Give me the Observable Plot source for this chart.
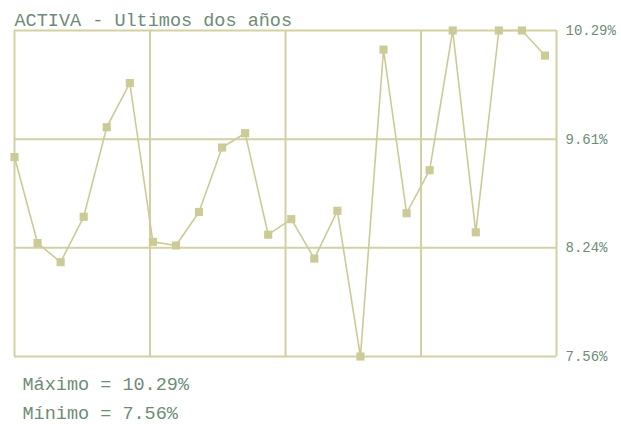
<!DOCTYPE html>
<html>
<head>
<meta charset="utf-8">
<script src="https://cdn.jsdelivr.net/npm/d3@7"></script>
<script src="https://cdn.jsdelivr.net/npm/@observablehq/plot@0.6"></script>
<style>
  html, body { margin: 0; padding: 0; background: #ffffff; }
  #chart { width: 621px; height: 424px; }
</style>
</head>
<body>
<div id="chart"></div>
<script>
// ---- data ----
const title = "ACTIVA - Ultimos dos años";
const rates = [9.23, 8.51, 8.35, 8.73, 9.48, 9.85, 8.52, 8.49, 8.77, 9.31, 9.43, 8.58,
               8.71, 8.38, 8.78, 7.56, 10.13, 8.76, 9.12, 10.29, 8.60, 10.29, 10.29, 10.08];
const minRate = 7.56;
const maxRate = 10.29;
const yTickLabels = ["7.56%", "8.24%", "9.61%", "10.29%"];
const summaryLines = ["Máximo = 10.29%", "Mínimo = 7.56%"];

const data = rates.map((v, i) => ({i, v}));

const gridColor = "#d2d1a3";
const pointColor = "#cccb97";
const textColor = "#6f8b78";
const font = "'Liberation Mono', 'DejaVu Sans Mono', monospace";

const n = rates.length;
const xDomain = [0, n - 0.5];
const xGrid = d3.range(5).map(k => xDomain[0] + k * (xDomain[1] - xDomain[0]) / 4);
const yTicks = d3.range(4).map(k => minRate + k * (maxRate - minRate) / 3);

const chart = Plot.plot({
  width: 621,
  height: 424,
  marginLeft: 14,
  marginRight: 65,
  marginTop: 30,
  marginBottom: 68,
  style: {fontFamily: font, background: "#ffffff"},
  x: {domain: xDomain, axis: null},
  y: {domain: [minRate, maxRate], axis: null},
  marks: [
    Plot.ruleX(xGrid, {stroke: gridColor, strokeWidth: 2}),
    Plot.ruleY(yTicks, {stroke: gridColor, strokeWidth: 2}),
    Plot.axisY(yTicks, {
      anchor: "right",
      tickSize: 0,
      tickPadding: 9,
      tickFormat: (d, k) => yTickLabels[k],
      fontSize: 14,
      fill: textColor,
      label: null
    }),
    Plot.line(data, {x: "i", y: "v", stroke: pointColor, strokeWidth: 1.6}),
    Plot.dot(data, {x: "i", y: "v", symbol: "square", r: 4.6, fill: pointColor, stroke: "none"}),
    Plot.text([title], {
      frameAnchor: "top-left", text: d => d, textAnchor: "start", lineAnchor: "bottom",
      dy: -5, fontSize: 18.5, fill: textColor
    }),
    Plot.text([summaryLines[0]], {
      frameAnchor: "bottom-left", text: d => d, textAnchor: "start", lineAnchor: "bottom",
      dx: 8, dy: 33, fontSize: 18.5, fill: textColor
    }),
    Plot.text([summaryLines[1]], {
      frameAnchor: "bottom-left", text: d => d, textAnchor: "start", lineAnchor: "bottom",
      dx: 8, dy: 62, fontSize: 18.5, fill: textColor
    })
  ]
});
document.getElementById("chart").appendChild(chart);
</script>
</body>
</html>
